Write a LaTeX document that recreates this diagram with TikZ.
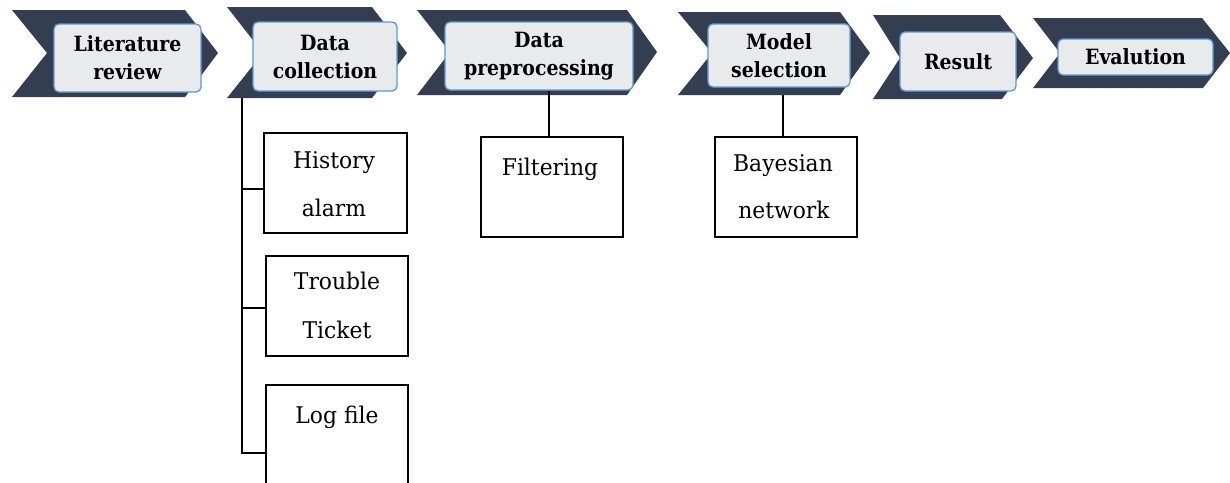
\documentclass[tikz,border=0pt]{standalone}
\usepackage{fontspec}
\setmainfont{DejaVu Serif}[FakeStretch=0.95]
\newfontfamily\stagefont{DejaVu Serif}[FakeStretch=0.9]
\definecolor{chev}{HTML}{333F50}
\definecolor{ibfill}{HTML}{E9EAEC}
\definecolor{ibdraw}{HTML}{5B9BD5}
\begin{document}
\begin{tikzpicture}[x=1pt,y=-1pt,
  chevron/.style={fill=chev},
  stage/.style={draw=ibdraw, fill=ibfill, line width=1.3pt, rounded corners=5pt,
    inner sep=0pt, align=center, font=\stagefont\bfseries\fontsize{21}{28}\selectfont},
  subbox/.style={draw=black, line width=1.2pt, inner sep=0pt, fill=white},
  subtxt/.style={font=\fontsize{23}{26}\selectfont, inner sep=0pt, anchor=base},
  link/.style={draw=black, line width=1.2pt}]
\clip (0,0) rectangle (1230,482);
\fill[white] (0,0) rectangle (1230,482);
% chevrons
\fill[chevron] (12,10) -- (185,10) -- (218,53) -- (185,97) -- (12,97) -- (47,53) -- cycle;
\fill[chevron] (227,7) -- (372,7) -- (407,53) -- (372,98) -- (227,98) -- (263,53) -- cycle;
\fill[chevron] (417,10) -- (627,10) -- (657,52) -- (627,95) -- (417,95) -- (450,52) -- cycle;
\fill[chevron] (678,12) -- (840,12) -- (870,53) -- (840,95) -- (678,95) -- (712,53) -- cycle;
\fill[chevron] (873,15) -- (1000,15) -- (1033,58) -- (1002,99) -- (873,99) -- (900,58) -- cycle;
\fill[chevron] (1033,18) -- (1202,18) -- (1230,53) -- (1203,88) -- (1033,88) -- (1060,53) -- cycle;
% stage boxes
\node[stage, minimum width=147pt, minimum height=68pt] (s1) at (127.5,58) {Literature\\review};
\node[stage, minimum width=144pt, minimum height=69pt] (s2) at (325,56.5) {Data\\collection};
\node[stage, minimum width=188pt, minimum height=68pt] (s3) at (539,56) {Data\\preprocessing};
\node[stage, minimum width=142pt, minimum height=63pt] (s4) at (779,55.5) {Model\\selection};
\node[stage, minimum width=116pt, minimum height=59pt] (s5) at (958,61.5) {Result};
\node[stage, minimum width=155pt, minimum height=36pt] (s6) at (1135.5,57) {Evalution};
% sub boxes
\node[subbox, minimum width=143pt, minimum height=100pt] (hist) at (335.5,183) {};
\node[subbox, minimum width=142pt, minimum height=100pt] (trouble) at (337,306) {};
\node[subbox, minimum width=142pt, minimum height=136pt] (log) at (337,453) {};
\node[subbox, minimum width=142pt, minimum height=100pt] (filt) at (552,187) {};
\node[subbox, minimum width=142pt, minimum height=100pt] (bayes) at (786,187) {};
\node[subtxt] (hist1) at (334,168) {History};
\node[subtxt] (hist2) at (334,216) {alarm};
\node[subtxt] (trou1) at (337,289) {Trouble};
\node[subtxt] (trou2) at (337,338) {Ticket};
\node[subtxt] (log1) at (337,423) {Log file};
\node[subtxt] (filt1) at (550,175) {Filtering};
\node[subtxt] (bay1) at (783,171) {Bayesian};
\node[subtxt] (bay2) at (784,218) {network};
% connectors
\coordinate (dcroot) at (242,98);
\draw[link] (dcroot) |- ([yshift=-6pt]hist.west);
\draw[link] (dcroot) |- ([yshift=-2pt]trouble.west);
\draw[link] (dcroot) |- (log.west);
\draw[link] ([xshift=-3pt]filt.north) -- ([xshift=-3pt]filt.north |- s3.south);
\coordinate (c4b) at (783,95);
\draw[link] (c4b) -- (c4b |- bayes.north);
\end{tikzpicture}
\end{document}
